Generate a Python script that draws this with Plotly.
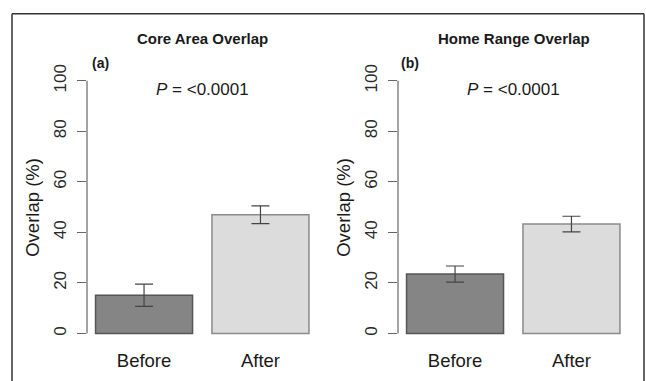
import plotly.graph_objects as go

W, H = 646, 381

categories = ["Before", "After"]
core_means = [15.1, 47.0]
core_err = [4.4, 3.5]
home_means = [23.5, 43.3]
home_err = [3.2, 3.1]
y_ticks = [0, 20, 40, 60, 80, 100]

panel_titles = ["Core Area Overlap", "Home Range Overlap"]
panel_tags = ["(a)", "(b)"]
p_text = "<i>P</i> = &lt;0.0001"
y_title = "Overlap (%)"

FONT = "Liberation Sans, Arial, Helvetica, sans-serif"
fill_colors = ["#858585", "#dcdcdc"]
line_colors = ["#555555", "#8a8a8a"]

def px(x):
    return x / W

def py(y):
    return 1 - y / H

fig = go.Figure()

domains = [(px(87), px(317.5)), (px(398), px(628.5))]
ydom = (py(343), py(65.7))

for i, (means, errs) in enumerate([(core_means, core_err), (home_means, home_err)]):
    xa = "x" if i == 0 else "x2"
    ya = "y" if i == 0 else "y2"
    fig.add_trace(go.Bar(
        x=categories, y=means, xaxis=xa, yaxis=ya,
        marker=dict(color=fill_colors, line=dict(color=line_colors, width=1.5)),
        error_y=dict(type="data", array=errs, visible=True, color="#444444",
                     thickness=1.2, width=9),
        showlegend=False, hoverinfo="skip",
    ))

axis_common_x = dict(
    type="category", range=[-0.49, 1.49], showgrid=False, zeroline=False,
    showline=False, ticks="", tickfont=dict(family=FONT, size=18.5, color="#1a1a1a"),
    ticklabelstandoff=4,
)
axis_common_y = dict(
    range=[-4, 104], tickvals=y_ticks, showgrid=False, zeroline=False, showline=False,
    ticks="outside", ticklen=9, tickwidth=1.2, tickcolor="#666666", tickangle=-90,
    tickfont=dict(family=FONT, size=17, color="#2a2a2a"), ticklabelstandoff=4,
)

fig.update_layout(
    width=W, height=H, margin=dict(l=0, r=0, t=0, b=0),
    paper_bgcolor="white", plot_bgcolor="white", bargap=1/6,
    xaxis=dict(domain=domains[0], anchor="y", **axis_common_x),
    xaxis2=dict(domain=domains[1], anchor="y2", **axis_common_x),
    yaxis=dict(domain=ydom, anchor="x", **axis_common_y),
    yaxis2=dict(domain=ydom, anchor="x2", **axis_common_y),
)

shapes = []
for i in range(2):
    xd = "x domain" if i == 0 else "x2 domain"
    yr = "y" if i == 0 else "y2"
    shapes.append(dict(type="line", xref=xd, yref=yr, x0=0, x1=0, y0=y_ticks[0], y1=y_ticks[-1],
                       line=dict(color="#666666", width=1.2)))
# outer frame (open bottom)
frame = dict(color="#333333", width=1.5)
shapes.append(dict(type="line", xref="paper", yref="paper", x0=px(12), x1=px(12), y0=py(8), y1=-0.05, line=frame))
shapes.append(dict(type="line", xref="paper", yref="paper", x0=px(12), x1=px(644), y0=py(8), y1=py(8), line=frame))
shapes.append(dict(type="line", xref="paper", yref="paper", x0=px(644), x1=px(644), y0=py(8), y1=-0.05, line=frame))
fig.update_layout(shapes=shapes)

ann = []
title_x = [202, 514]
tag_x = [100, 410]
p_x = [202, 513]
ytitle_x = [33, 344]
for i in range(2):
    ann.append(dict(text="<b>%s</b>" % panel_titles[i], x=px(title_x[i]), y=py(33), xref="paper", yref="paper",
                    showarrow=False, xanchor="center", yanchor="middle",
                    font=dict(family=FONT, size=15, color="#1a1a1a")))
    ann.append(dict(text="<b>%s</b>" % panel_tags[i], x=px(tag_x[i]), y=py(58), xref="paper", yref="paper",
                    showarrow=False, xanchor="center", yanchor="middle",
                    font=dict(family=FONT, size=14, color="#1a1a1a")))
    ann.append(dict(text=p_text, x=px(p_x[i]), y=py(85), xref="paper", yref="paper",
                    showarrow=False, xanchor="center", yanchor="middle",
                    font=dict(family=FONT, size=17, color="#1a1a1a")))
    ann.append(dict(text=y_title, x=px(ytitle_x[i]), y=py(205), xref="paper", yref="paper",
                    showarrow=False, xanchor="center", yanchor="middle", textangle=-90,
                    font=dict(family=FONT, size=18.5, color="#1a1a1a")))
fig.update_layout(annotations=ann)

fig.write_html("out.html")
